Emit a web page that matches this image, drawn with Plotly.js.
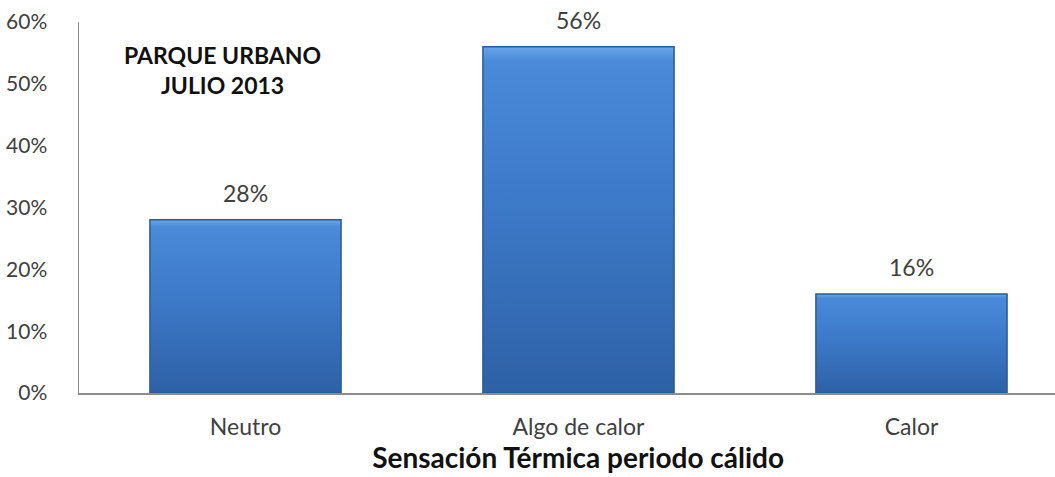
<!DOCTYPE html>
<html>
<head>
<meta charset="utf-8">
<script src="https://cdn.plot.ly/plotly-3.0.1.min.js"></script>
<style>html,body{margin:0;padding:0;background:#fff;}#chart{width:1055px;height:477px;}</style>
</head>
<body>
<div id="chart"></div>
<script>
const categories = ["Neutro", "Algo de calor", "Calor"];
const values = [28, 56, 16];
const tickValues = [0, 10, 20, 30, 40, 50, 60];
const tickLabels = ["0%", "10%", "20%", "30%", "40%", "50%", "60%"];
const valueLabels = values.map(v => v + "%");
const chartTitle = "Sensación Térmica periodo cálido";
const boxText = "<b>PARQUE URBANO</b><br><b>JULIO 2013</b>";

const FONT = "Lato, 'Open Sans', sans-serif";

const trace = {
  type: "bar",
  x: categories,
  y: values,
  width: 0.574,
  marker: {color: "#3b78c6", line: {color: "#2c5a96", width: 1.5}},
  hoverinfo: "skip"
};

const valueAnnotations = categories.map((c, i) => ({
  x: c, y: values[i], xref: "x", yref: "y",
  text: valueLabels[i], showarrow: false,
  xanchor: "center", yanchor: "bottom", yshift: 11,
  font: {family: FONT, size: 23, color: "#404040"}
}));

const layout = {
  width: 1055, height: 477,
  margin: {l: 79, r: 0, t: 22, b: 84},
  paper_bgcolor: "#ffffff",
  plot_bgcolor: "#ffffff",
  showlegend: false,
  bargap: 0,
  font: {family: FONT, color: "#404040"},
  title: {
    text: "<b>" + chartTitle + "</b>",
    font: {family: FONT, size: 28, color: "#111111"},
    x: 0.548, xanchor: "center", xref: "container",
    y: 0.04, yanchor: "middle", yref: "container"
  },
  xaxis: {
    type: "category",
    range: [-0.5, 2.431],
    showgrid: false,
    showline: true, linecolor: "#8c8c8c", linewidth: 1.5,
    ticks: "",
    tickfont: {family: FONT, size: 23, color: "#404040"},
    ticklabelstandoff: 13,
    fixedrange: true
  },
  yaxis: {
    range: [0, 60],
    tickvals: tickValues,
    ticktext: tickLabels,
    showgrid: false,
    zeroline: false,
    showline: true, linecolor: "#8c8c8c", linewidth: 1.5,
    ticks: "",
    tickfont: {family: FONT, size: 21, color: "#404040"},
    ticklabelstandoff: 26,
    fixedrange: true
  },
  annotations: [{
    text: boxText,
    xref: "paper", yref: "paper",
    x: 0.147, y: 0.87, xanchor: "center", yanchor: "middle",
    showarrow: false, align: "center",
    font: {family: FONT, size: 23, color: "#111111"}
  }].concat(valueAnnotations)
};

function applyGradient(gd) {
  const svg = gd.querySelector("svg.main-svg");
  if (!svg) return;
  const ns = "http://www.w3.org/2000/svg";
  let defs = svg.querySelector("defs");
  if (!defs) { defs = document.createElementNS(ns, "defs"); svg.insertBefore(defs, svg.firstChild); }
  const g = document.createElementNS(ns, "linearGradient");
  g.setAttribute("id", "barGrad");
  g.setAttribute("x1", "0"); g.setAttribute("y1", "0");
  g.setAttribute("x2", "0"); g.setAttribute("y2", "1");
  [["0", "#6aa6ea"], ["0.04", "#4a8ad9"], ["0.4", "#3e7ccb"], ["1", "#2d61a6"]].forEach(([o, c]) => {
    const s = document.createElementNS(ns, "stop");
    s.setAttribute("offset", o); s.setAttribute("stop-color", c);
    g.appendChild(s);
  });
  defs.appendChild(g);
  gd.querySelectorAll(".bars .point path").forEach(p => { p.style.fill = "url(#barGrad)"; });
}

Plotly.newPlot("chart", [trace], layout, {staticPlot: true, displayModeBar: false}).then(applyGradient);
</script>
</body>
</html>
